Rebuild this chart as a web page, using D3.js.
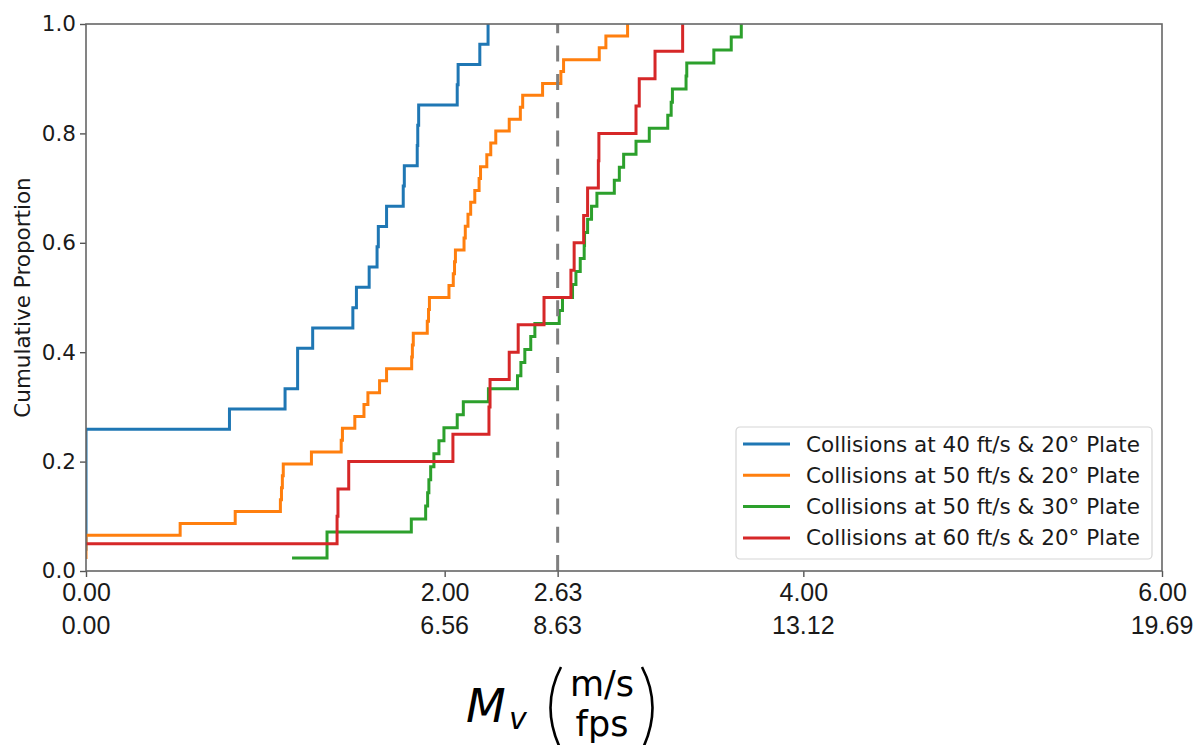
<!DOCTYPE html>
<html>
<head>
<meta charset="utf-8">
<script src="https://cdn.jsdelivr.net/npm/d3@7"></script>
<style>
  html, body { margin: 0; padding: 0; background: #fff; }
  svg { display: block; }
</style>
</head>
<body>
<svg id="chart" width="1195" height="745"></svg>
<script>
// Measured impact speeds M_v (m/s) for each test configuration, sorted ascending.
const speeds40ft20deg = [0, 0, 0, 0, 0, 0, 0, 0.80, 1.11, 1.18, 1.18, 1.264, 1.488, 1.508,
  1.579, 1.623, 1.63, 1.676, 1.769, 1.775, 1.847, 1.85, 1.855, 2.07, 2.075, 2.196, 2.242];
const speeds50ft20deg = [0, 0, 0, 0.525, 0.832, 1.084, 1.09, 1.095, 1.10, 1.257, 1.423, 1.43,
  1.499, 1.55, 1.572, 1.637, 1.676, 1.816, 1.82, 1.825, 1.903, 1.91, 1.915, 2.024, 2.048,
  2.055, 2.06, 2.108, 2.115, 2.13, 2.145, 2.168, 2.192, 2.2, 2.235, 2.257, 2.285, 2.36,
  2.422, 2.435, 2.546, 2.648, 2.663, 2.862, 2.899, 3.02];
const speeds50ft30deg = [1.149, 1.344, 1.344, 1.814, 1.894, 1.905, 1.912, 1.922, 1.94, 1.968,
  1.996, 2.07, 2.104, 2.244, 2.406, 2.425, 2.447, 2.48, 2.503, 2.639, 2.657, 2.713, 2.732,
  2.756, 2.778, 2.78, 2.797, 2.819, 2.849, 2.946, 2.974, 2.998, 3.067, 3.141, 3.244, 3.263,
  3.27, 3.346, 3.35, 3.501, 3.598, 3.654];
const speeds60ft20deg = [0, 1.40, 1.405, 1.465, 2.046, 2.247, 2.253, 2.36, 2.41, 2.554, 2.704,
  2.722, 2.775, 2.797, 2.857, 2.86, 3.067, 3.085, 3.173, 3.327];

const seriesLabels = [
  "Collisions at 40 ft/s & 20° Plate",
  "Collisions at 50 ft/s & 20° Plate",
  "Collisions at 50 ft/s & 30° Plate",
  "Collisions at 60 ft/s & 20° Plate"
];
const seriesColors = ["#1f77b4", "#ff7f0e", "#2ca02c", "#d62728"];

// Reference speed marked by the dashed line (m/s)
const referenceSpeed = 2.63;

// Axis ticks: m/s on the first row, the matching fps on the second
const xTicksMs = [0, 2, 2.63, 4, 6];
const xTicksFps = ["0.00", "6.56", "8.63", "13.12", "19.69"];
const yTicks = [0, 0.2, 0.4, 0.6, 0.8, 1.0];

const allSeries = [speeds40ft20deg, speeds50ft20deg, speeds50ft30deg, speeds60ft20deg];

const SANS_MPL = "'DejaVu Sans', sans-serif";
const SANS_ARIAL = "'Liberation Sans', Arial, Helvetica, sans-serif";

const svg = d3.select("#chart");
const margin = { left: 86, right: 1162, top: 24, bottom: 571 };

const x = d3.scaleLinear().domain([0, 6]).range([margin.left, margin.right]);
const y = d3.scaleLinear().domain([0, 1]).range([margin.bottom, margin.top]);

svg.append("clipPath").attr("id", "plotClip")
  .append("rect")
  .attr("x", margin.left).attr("y", margin.top - 2)
  .attr("width", margin.right - margin.left).attr("height", margin.bottom - margin.top + 4);

// Empirical cumulative distribution: the k-th sorted sample reaches proportion k/n
function ecdf(samples) {
  const n = samples.length;
  return samples.map((v, i) => [v, (i + 1) / n]);
}

const stepLine = d3.line()
  .x(d => x(d[0]))
  .y(d => y(d[1]))
  .curve(d3.curveStepAfter);

const linesG = svg.append("g").attr("clip-path", "url(#plotClip)");
allSeries.forEach((s, i) => {
  linesG.append("path")
    .datum(ecdf(s))
    .attr("d", stepLine)
    .attr("fill", "none")
    .attr("stroke", seriesColors[i])
    .attr("stroke-width", 3)
    .attr("stroke-linejoin", "miter")
    .attr("stroke-linecap", "butt");
});

// Dashed reference line, drawn from the bottom up
svg.append("line")
  .attr("x1", x(referenceSpeed)).attr("x2", x(referenceSpeed))
  .attr("y1", y(0)).attr("y2", y(1))
  .attr("stroke", "#7f7f7f")
  .attr("stroke-width", 3)
  .attr("stroke-dasharray", "16,12.3");

// Axes
const yAxis = d3.axisLeft(y).tickValues(yTicks).tickFormat(d3.format(".1f"))
  .tickSize(6).tickPadding(4);
const yAxisG = svg.append("g")
  .attr("transform", `translate(${margin.left},0)`)
  .call(yAxis);
yAxisG.select(".domain").remove();
yAxisG.selectAll(".tick line").attr("stroke", "#555").attr("stroke-width", 1.4);
yAxisG.selectAll(".tick text")
  .style("font-family", SANS_MPL)
  .style("font-size", "21.5px")
  .attr("fill", "#1a1a1a");

const xAxis = d3.axisBottom(x).tickValues(xTicksMs).tickFormat(d3.format(".2f"))
  .tickSize(6).tickPadding(6);
const xAxisG = svg.append("g")
  .attr("transform", `translate(0,${margin.bottom})`)
  .call(xAxis);
xAxisG.select(".domain").remove();
xAxisG.selectAll(".tick line").attr("stroke", "#555").attr("stroke-width", 1.4);
xAxisG.selectAll(".tick text")
  .style("font-family", SANS_ARIAL)
  .style("font-size", "25px")
  .attr("fill", "#1a1a1a");

// Second row of x labels in fps
svg.append("g").selectAll("text")
  .data(xTicksMs)
  .join("text")
  .attr("x", d => x(d))
  .attr("y", 634)
  .attr("text-anchor", "middle")
  .style("font-family", SANS_ARIAL)
  .style("font-size", "25px")
  .attr("fill", "#1a1a1a")
  .text((d, i) => xTicksFps[i]);

// Frame
svg.append("rect")
  .attr("x", margin.left).attr("y", margin.top)
  .attr("width", margin.right - margin.left).attr("height", margin.bottom - margin.top)
  .attr("fill", "none")
  .attr("stroke", "#666")
  .attr("stroke-width", 1.6);

// Legend
const legend = svg.append("g").attr("transform", "translate(736,427)");
legend.append("rect")
  .attr("width", 416).attr("height", 132)
  .attr("rx", 4)
  .attr("fill", "#fff").attr("fill-opacity", 0.8)
  .attr("stroke", "#d6d6d6").attr("stroke-width", 1.2);
seriesLabels.forEach((label, i) => {
  const cy = 17 + i * 31.3;
  legend.append("line")
    .attr("x1", 7).attr("x2", 54)
    .attr("y1", cy).attr("y2", cy)
    .attr("stroke", seriesColors[i]).attr("stroke-width", 3);
  legend.append("text")
    .attr("x", 70).attr("y", cy + 7.5)
    .style("font-family", SANS_MPL)
    .style("font-size", "21.5px")
    .attr("fill", "#1a1a1a")
    .text(label);
});

// Y axis title
svg.append("text")
  .attr("transform", `translate(30,${(margin.top + margin.bottom) / 2}) rotate(-90)`)
  .attr("text-anchor", "middle")
  .style("font-family", SANS_MPL)
  .style("font-size", "21.5px")
  .attr("fill", "#1a1a1a")
  .text("Cumulative Proportion");

// X axis title: M_v with stacked units in parentheses
const xt = svg.append("g");
xt.append("text")
  .attr("x", 466).attr("y", 722)
  .style("font-family", SANS_MPL)
  .style("font-style", "italic")
  .style("font-size", "46px")
  .attr("fill", "#000")
  .text("M");
xt.append("text")
  .attr("x", 509).attr("y", 729)
  .style("font-family", SANS_MPL)
  .style("font-style", "italic")
  .style("font-size", "30px")
  .attr("fill", "#000")
  .text("v");
xt.append("path")
  .attr("d", "M561,667 Q540,707 561,750")
  .attr("fill", "none").attr("stroke", "#000").attr("stroke-width", 2.6);
xt.append("path")
  .attr("d", "M642,667 Q663,707 642,750")
  .attr("fill", "none").attr("stroke", "#000").attr("stroke-width", 2.6);
xt.append("text")
  .attr("x", 602).attr("y", 696)
  .attr("text-anchor", "middle")
  .style("font-family", SANS_MPL)
  .style("font-size", "35px")
  .attr("fill", "#000")
  .text("m/s");
xt.append("text")
  .attr("x", 602).attr("y", 736)
  .attr("text-anchor", "middle")
  .style("font-family", SANS_MPL)
  .style("font-size", "35px")
  .attr("fill", "#000")
  .text("fps");
</script>
</body>
</html>
